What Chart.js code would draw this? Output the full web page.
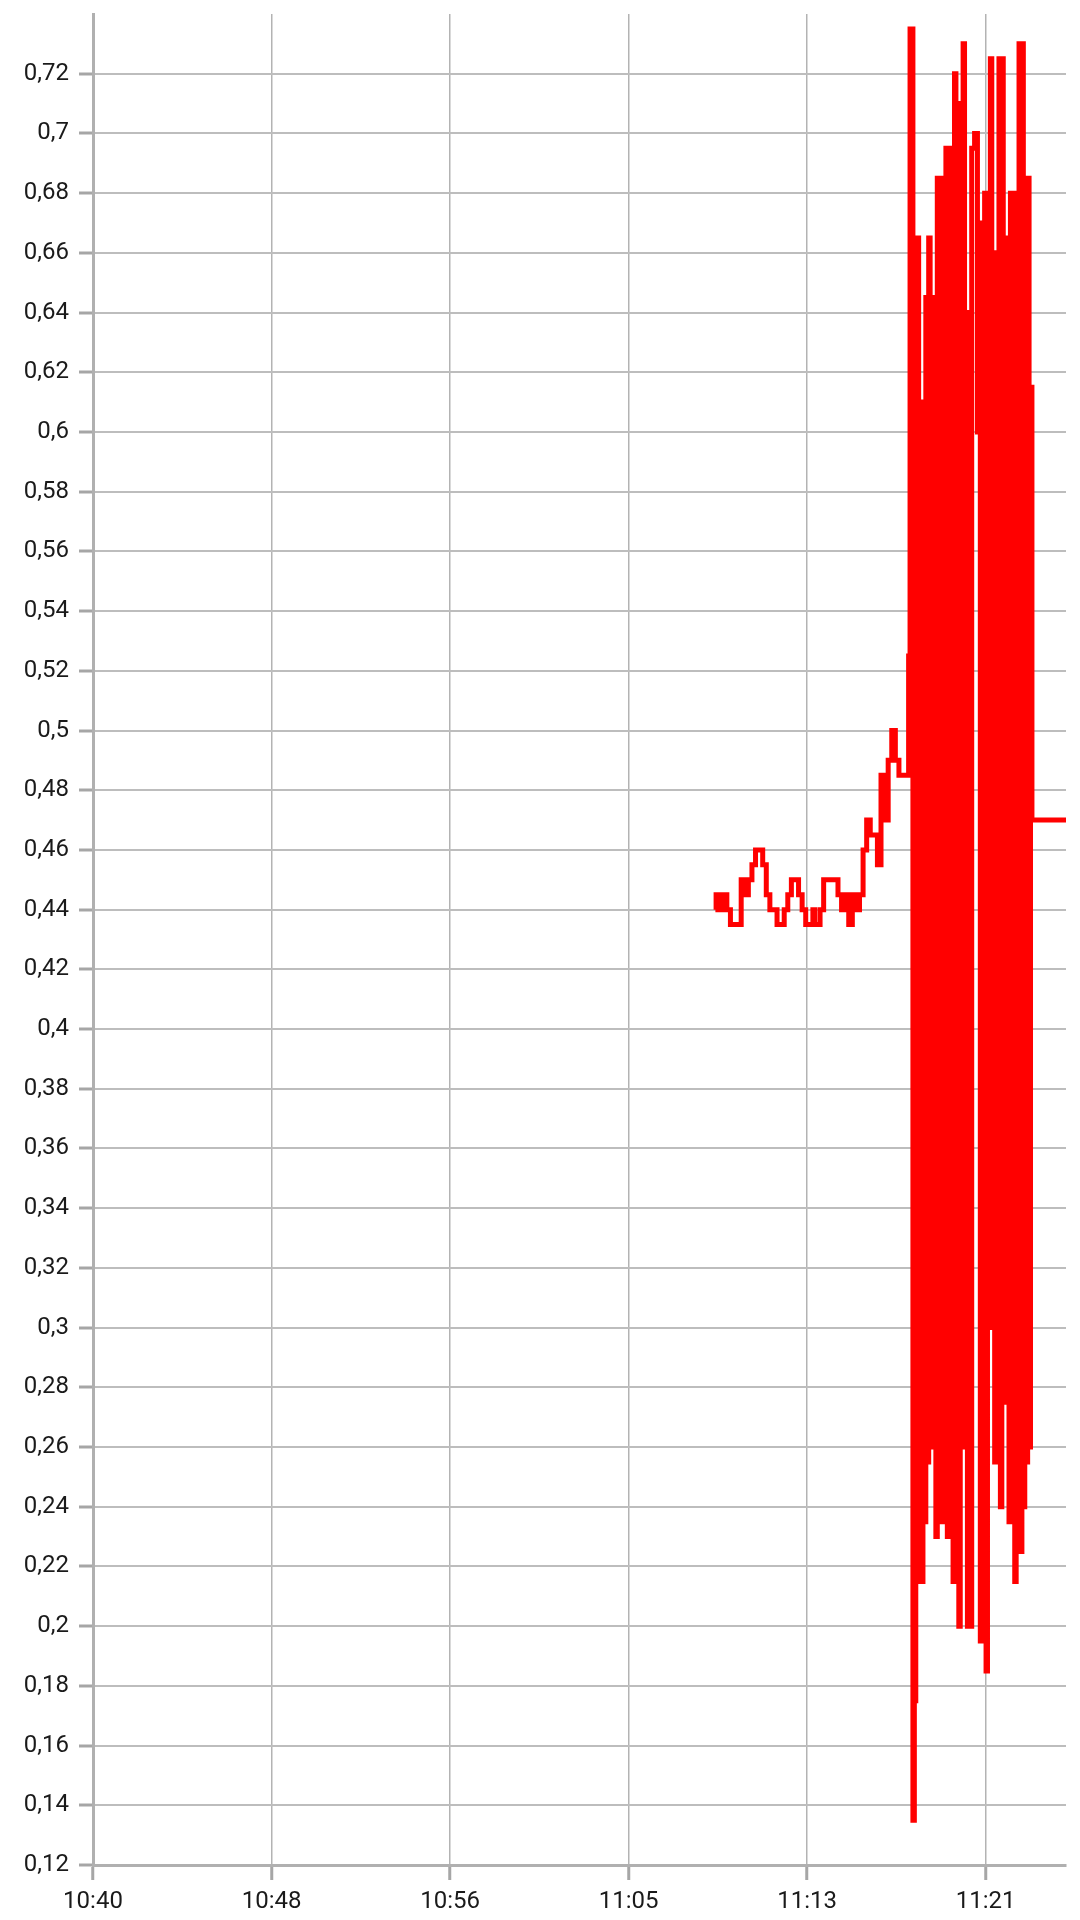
<!DOCTYPE html>
<html>
<head>
<meta charset="utf-8">
<script src="https://cdn.jsdelivr.net/npm/chart.js@4"></script>
<style>
  html, body { margin: 0; padding: 0; background: #fff; }
  canvas { display: block; }
</style>
</head>
<body>
<canvas id="chart" width="1080" height="1920"></canvas>
<script>
// sample times and readings
var times = [
  '11:09:10','11:09:15','11:09:20','11:09:30','11:09:35','11:09:40','11:09:50','11:10:00','11:10:10','11:10:20','11:10:30','11:10:40',
  '11:10:50','11:11:00','11:11:10','11:11:20','11:11:30','11:11:40','11:11:50','11:12:00','11:12:10','11:12:20',
  '11:12:30','11:12:40','11:12:50','11:13:00','11:13:10','11:13:20','11:13:30','11:13:40','11:13:45','11:13:50','11:14:00',
  '11:14:10','11:14:20','11:14:30','11:14:40','11:14:50','11:15:00','11:15:10','11:15:20','11:15:30','11:15:40',
  '11:15:50','11:16:00','11:16:10','11:16:20','11:16:30','11:16:40','11:16:50','11:17:00','11:17:10','11:17:20',
  '11:17:30','11:17:40','11:17:50','11:18:00',
  '11:18:07','11:18:11','11:18:15','11:18:19','11:18:23','11:18:27','11:18:31','11:18:35','11:18:39','11:18:43',
  '11:18:47','11:18:51','11:18:55','11:18:59','11:19:03','11:19:07','11:19:11','11:19:15','11:19:19','11:19:23',
  '11:19:27','11:19:31','11:19:35','11:19:39','11:19:43','11:19:47','11:19:51','11:19:55','11:19:59','11:20:03',
  '11:20:07','11:20:11','11:20:15','11:20:19','11:20:23','11:20:27','11:20:31','11:20:35','11:20:39','11:20:43',
  '11:20:47','11:20:51','11:20:55','11:20:59','11:21:03','11:21:07','11:21:11','11:21:15','11:21:19','11:21:23',
  '11:21:27','11:21:31','11:21:35','11:21:39','11:21:43','11:21:47','11:21:51','11:21:55','11:21:59','11:22:03',
  '11:22:07','11:22:11','11:22:15','11:22:19','11:22:23','11:22:27','11:22:31','11:22:35','11:22:39','11:22:43',
  '11:22:47','11:22:51','11:22:55','11:22:59','11:23:03','11:23:07','11:23:11','11:23:15','11:23:19','11:23:23',
  '11:23:27','11:23:31','11:23:35','11:23:39','11:23:43','11:23:47','11:23:51','11:23:55',
  '11:24:10','11:24:20','11:24:30','11:24:40','11:24:50','11:25:00','11:25:10','11:25:20','11:25:26'
];
var values = [
  0.44, 0.445, 0.44, 0.445, 0.44, 0.445, 0.44, 0.435, 0.435, 0.435, 0.45, 0.445,
  0.45, 0.455, 0.46, 0.46, 0.455, 0.445, 0.44, 0.44, 0.435, 0.435,
  0.44, 0.445, 0.45, 0.45, 0.445, 0.44, 0.435, 0.435, 0.44, 0.435, 0.435,
  0.44, 0.45, 0.45, 0.45, 0.45, 0.445, 0.44, 0.445, 0.435, 0.445,
  0.44, 0.445, 0.46, 0.47, 0.465, 0.465, 0.455, 0.485, 0.47, 0.49,
  0.5, 0.49, 0.485, 0.485,
  0.485, 0.525, 0.735, 0.735, 0.135, 0.175, 0.665, 0.665, 0.215, 0.61,
  0.215, 0.61, 0.235, 0.645, 0.255, 0.665, 0.28, 0.645, 0.26, 0.62,
  0.23, 0.685, 0.3, 0.685, 0.235, 0.62, 0.235, 0.695, 0.23, 0.695,
  0.23, 0.62, 0.215, 0.72, 0.3, 0.71, 0.2, 0.63, 0.26, 0.73,
  0.26, 0.64, 0.2, 0.62, 0.2, 0.695, 0.695, 0.7, 0.7, 0.6,
  0.67, 0.195, 0.6, 0.195, 0.68, 0.185, 0.68, 0.3, 0.725, 0.33,
  0.66, 0.255, 0.64, 0.27, 0.725, 0.24, 0.725, 0.275, 0.665, 0.275,
  0.665, 0.235, 0.68, 0.235, 0.68, 0.215, 0.68, 0.225, 0.73, 0.225,
  0.73, 0.24, 0.66, 0.255, 0.685, 0.26, 0.615, 0.47,
  0.47, 0.47, 0.47, 0.47, 0.47, 0.47, 0.47, 0.47, 0.47
];
// x tick positions (labels show hours:minutes)
var tickTimes = ['10:40:12','10:48:30','10:56:48','11:05:06','11:13:24','11:21:42'];
var xStart = '10:40:12';
var xEnd = '11:25:26';
var yMin = 0.12, yMax = 0.74, yStep = 0.02;

function toSec(t) {
  var p = t.split(':');
  return (+p[0]) * 3600 + (+p[1]) * 60 + (+p[2]);
}
function fmtTime(s) {
  var h = Math.floor(s / 3600), m = Math.floor((s % 3600) / 60);
  return (h < 10 ? '0' : '') + h + ':' + (m < 10 ? '0' : '') + m;
}

var points = [];
for (var i = 0; i < times.length; i++) {
  points.push({x: toSec(times[i]), y: values[i]});
}

Chart.defaults.font.family = 'Roboto';
Chart.defaults.font.size = 24;
Chart.defaults.color = '#1a1a1a';

var ctx = document.getElementById('chart').getContext('2d');
new Chart(ctx, {
  type: 'line',
  data: {
    datasets: [{
      data: points,
      borderColor: '#ff0000',
      borderWidth: 5,
      pointRadius: 0,
      stepped: 'after',
      fill: false
    }]
  },
  options: {
    responsive: false,
    animation: false,
    parsing: false,
    layout: { padding: { top: 14, right: 14, left: 0, bottom: 0 } },
    plugins: { legend: { display: false }, tooltip: { enabled: false } },
    scales: {
      x: {
        type: 'linear',
        min: toSec(xStart),
        max: toSec(xEnd),
        afterBuildTicks: function(scale) {
          scale.ticks = tickTimes.map(function(t) { return {value: toSec(t)}; });
        },
        afterFit: function(scale) { scale.height = 55; },
        ticks: {
          autoSkip: false,
          maxRotation: 0,
          padding: 8,
          callback: function(v) { return fmtTime(v); }
        },
        grid: {
          color: '#b3b3b3',
          lineWidth: 1.5,
          tickLength: 15,
          tickColor: '#a6a6a6',
          tickWidth: 3
        },
        border: { color: '#b0b0b0', width: 3 }
      },
      y: {
        min: yMin,
        max: yMax,
        afterBuildTicks: function(scale) {
          scale.ticks = scale.ticks.filter(function(t) { return t.value < yMax - 0.005; });
        },
        afterFit: function(scale) {
          scale.width = 93;
          scale.paddingTop = 0;
          scale.paddingBottom = 0;
        },
        ticks: {
          stepSize: yStep,
          padding: 10,
          callback: function(v) { return String(Math.round(v * 100) / 100).replace('.', ','); }
        },
        grid: {
          color: '#bdbdbd',
          lineWidth: 2,
          tickLength: 14,
          tickColor: '#a6a6a6',
          tickWidth: 3
        },
        border: { color: '#b0b0b0', width: 3 }
      }
    }
  }
});
</script>
</body>
</html>
